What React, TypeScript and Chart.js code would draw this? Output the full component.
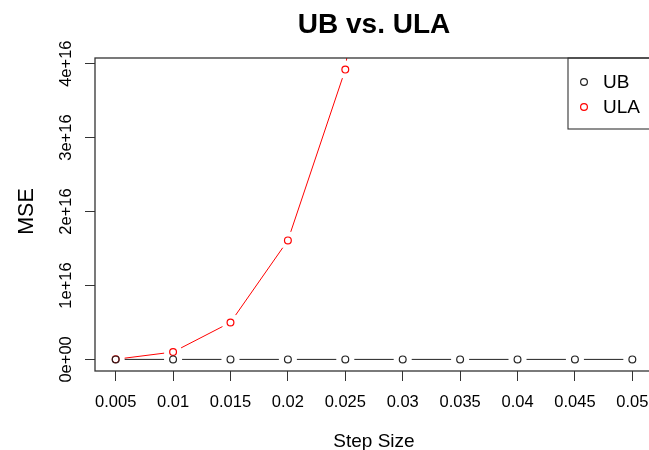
import React, { useEffect, useRef } from "react";
import { Chart, registerables } from "chart.js";

Chart.register(...registerables);

// ---- data ----
const stepSizes = [0.005, 0.01, 0.015, 0.02, 0.025, 0.03, 0.035, 0.04, 0.045, 0.05];
const xTickLabels = ["0.005", "0.01", "0.015", "0.02", "0.025", "0.03", "0.035", "0.04", "0.045", "0.05"];
const ubMSE = [1e12, 1e12, 1e12, 1e12, 1e12, 1e12, 1e12, 1e12, 1e12, 1e12];
const ulaMSE = [1.5e13, 1.0e15, 5.0e15, 1.61e16, 3.92e16, 1.0e17, null, null, null, null];
const yTicks = [0, 1e16, 2e16, 3e16, 4e16];
const yTickLabels = ["0e+00", "1e+16", "2e+16", "3e+16", "4e+16"];
const yDataRange = [0, 3.92e16];
const seriesNames = ["UB", "ULA"];
const seriesColors = ["#222222", "#ff0000"];

const FONT = "'Liberation Sans', Arial, Helvetica, sans-serif";

const xSpan = stepSizes[stepSizes.length - 1] - stepSizes[0];
const xMin = stepSizes[0] - 0.04 * xSpan;
const xMax = stepSizes[stepSizes.length - 1] + 0.04 * xSpan;
const ySpan = yDataRange[1] - yDataRange[0];
const yMin = yDataRange[0] - 0.04 * ySpan;
const yMax = yDataRange[1] + 0.04 * ySpan;

const gapLinesPlugin = {
  id: "gapLines",
  beforeDatasetsDraw(chart: any) {
    const { ctx, chartArea } = chart;
    ctx.save();
    ctx.beginPath();
    ctx.rect(chartArea.left, chartArea.top, chartArea.right - chartArea.left, chartArea.bottom - chartArea.top);
    ctx.clip();
    chart.data.datasets.forEach((ds: any, i: number) => {
      const meta = chart.getDatasetMeta(i);
      const pts = meta.data;
      ctx.strokeStyle = ds.borderColor;
      ctx.lineWidth = 1;
      const gap = 9;
      for (let k = 0; k < pts.length - 1; k++) {
        const a = ds.data[k];
        const b = ds.data[k + 1];
        if (a == null || b == null || a.y == null || b.y == null) continue;
        const p1 = pts[k];
        const p2 = pts[k + 1];
        const dx = p2.x - p1.x;
        const dy = p2.y - p1.y;
        const len = Math.sqrt(dx * dx + dy * dy);
        if (len <= 2 * gap) continue;
        const ux = dx / len;
        const uy = dy / len;
        ctx.beginPath();
        ctx.moveTo(p1.x + ux * gap, p1.y + uy * gap);
        ctx.lineTo(p2.x - ux * gap, p2.y - uy * gap);
        ctx.stroke();
      }
    });
    ctx.restore();
  },
};

const decorPlugin = {
  id: "decor",
  afterDraw(chart: any) {
    const { ctx, chartArea } = chart;
    ctx.save();
    // box
    ctx.strokeStyle = "#333";
    ctx.lineWidth = 1.3;
    ctx.strokeRect(chartArea.left, chartArea.top, chartArea.right - chartArea.left, chartArea.bottom - chartArea.top);

    // y tick labels (rotated)
    const ys = chart.scales.y;
    ctx.fillStyle = "#000";
    ctx.font = `16.5px ${FONT}`;
    ctx.textAlign = "center";
    ctx.textBaseline = "alphabetic";
    yTicks.forEach((v, i) => {
      const py = ys.getPixelForValue(v);
      ctx.save();
      ctx.translate(70.5, py);
      ctx.rotate(-Math.PI / 2);
      ctx.fillText(yTickLabels[i], 0, 0);
      ctx.restore();
    });

    // title
    const cx = (chartArea.left + chartArea.right) / 2;
    ctx.font = `bold 28px ${FONT}`;
    ctx.fillText("UB vs. ULA", cx, 32.5);

    // axis titles
    ctx.font = `19px ${FONT}`;
    ctx.fillText("Step Size", cx, 446.5);
    ctx.save();
    ctx.font = `21.5px ${FONT}`;
    ctx.translate(33, (chartArea.top + chartArea.bottom) / 2 - 3);
    ctx.rotate(-Math.PI / 2);
    ctx.fillText("MSE", 0, 0);
    ctx.restore();

    // legend
    const lx = 568;
    const ly = chartArea.top;
    ctx.strokeStyle = "#333";
    ctx.lineWidth = 1.1;
    ctx.strokeRect(lx, ly, chartArea.right - lx, 71);
    ctx.font = `19px ${FONT}`;
    ctx.textAlign = "left";
    ctx.textBaseline = "middle";
    chart.data.datasets.forEach((ds: any, i: number) => {
      const ry = ly + 24 + i * 25;
      ctx.beginPath();
      ctx.arc(584, ry, 3.4, 0, Math.PI * 2);
      ctx.strokeStyle = ds.borderColor;
      ctx.lineWidth = 1.2;
      ctx.stroke();
      ctx.fillStyle = "#000";
      ctx.fillText(ds.label, 603, ry + 1);
    });
    ctx.restore();
  },
};

export default function App() {
  const ref = useRef<HTMLCanvasElement | null>(null);

  useEffect(() => {
    if (!ref.current) return;
    const mk = (vals: (number | null)[]) => stepSizes.map((x, i) => ({ x, y: vals[i] }));
    const chart = new Chart(ref.current, {
      type: "scatter",
      data: {
        datasets: [
          {
            label: seriesNames[0],
            data: mk(ubMSE) as any,
            borderColor: seriesColors[0],
            backgroundColor: "rgba(0,0,0,0)",
            pointRadius: 3.4,
            pointBorderWidth: 1.2,
            pointHoverRadius: 3.4,
            showLine: false,
          },
          {
            label: seriesNames[1],
            data: mk(ulaMSE) as any,
            borderColor: seriesColors[1],
            backgroundColor: "rgba(0,0,0,0)",
            pointRadius: 3.4,
            pointBorderWidth: 1.2,
            pointHoverRadius: 3.4,
            showLine: false,
          },
        ],
      },
      options: {
        responsive: false,
        animation: false,
        devicePixelRatio: 1,
        events: [],
        layout: { padding: { left: 0, right: 27, top: 58, bottom: 0 } },
        plugins: { legend: { display: false }, title: { display: false }, tooltip: { enabled: false } },
        scales: {
          x: {
            type: "linear",
            min: xMin,
            max: xMax,
            border: { display: false },
            grid: { drawOnChartArea: false, drawTicks: true, tickLength: 10, color: "#333", lineWidth: 1 },
            ticks: {
              font: { family: FONT, size: 16.5 },
              color: "#000",
              padding: 12,
              maxRotation: 0,
              minRotation: 0,
              autoSkip: false,
              callback: (v: any) => {
                const idx = stepSizes.findIndex((s) => Math.abs(s - Number(v)) < 1e-9);
                return idx >= 0 ? xTickLabels[idx] : "";
              },
            },
            afterBuildTicks: (s: any) => {
              s.ticks = stepSizes.map((v) => ({ value: v }));
            },
            afterFit: (s: any) => {
              s.height = 79;
            },
          },
          y: {
            type: "linear",
            min: yMin,
            max: yMax,
            border: { display: false },
            grid: { drawOnChartArea: false, drawTicks: true, tickLength: 10, color: "#333", lineWidth: 1 },
            ticks: { display: false },
            afterBuildTicks: (s: any) => {
              s.ticks = yTicks.map((v) => ({ value: v }));
            },
            afterFit: (s: any) => {
              s.width = 95;
            },
          },
        },
      },
      plugins: [gapLinesPlugin, decorPlugin],
    });
    return () => chart.destroy();
  }, []);

  return (
    <div style={{ position: "fixed", left: 0, top: 0, width: 649, height: 450, overflow: "hidden", background: "#fff" }}>
      <canvas ref={ref} width={680} height={450} style={{ display: "block", width: 680, height: 450 }} />
    </div>
  );
}
